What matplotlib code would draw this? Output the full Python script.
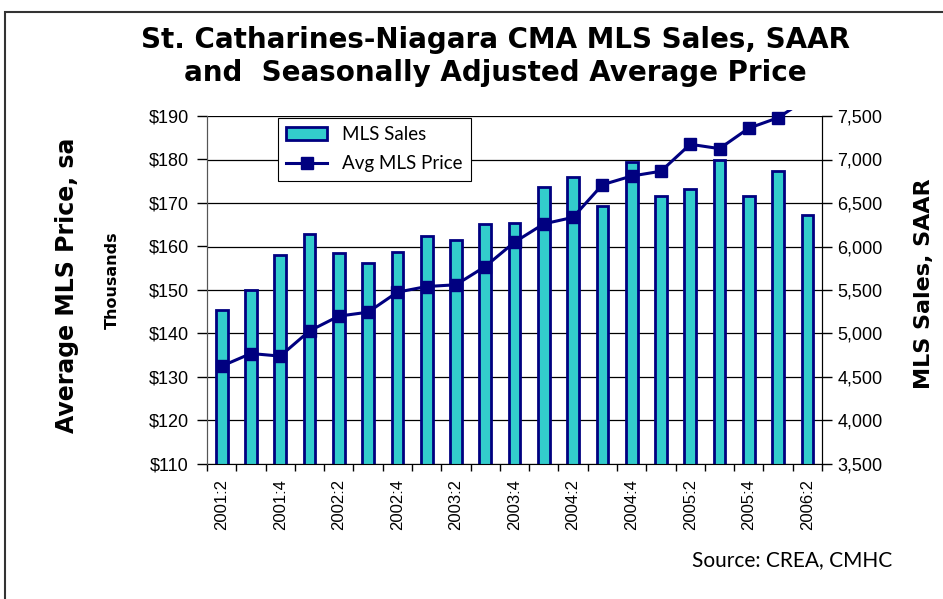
import matplotlib.pyplot as plt
from matplotlib.patches import Rectangle
from matplotlib.lines import Line2D
from matplotlib.ticker import FuncFormatter
import numpy as np

quarters = ['2001:2', '2001:3', '2001:4', '2002:1', '2002:2', '2002:3', '2002:4',
            '2003:1', '2003:2', '2003:3', '2003:4', '2004:1', '2004:2', '2004:3',
            '2004:4', '2005:1', '2005:2', '2005:3', '2005:4', '2006:1', '2006:2']

mls_sales = [5270, 5500, 5900, 6140, 5920, 5810, 5940, 6120, 6070, 6260, 6270,
             6685, 6800, 6470, 6975, 6585, 6660, 6990, 6585, 6865, 6365]

avg_price = [132.5, 135.4, 134.8, 140.6, 144.0, 144.9, 149.5, 150.8, 151.2, 155.4,
             161.0, 165.2, 166.7, 174.2, 176.2, 177.3, 183.5, 182.5, 187.2, 189.6, 194.0]

bar_fill = '#33CCCC'
navy = '#000080'

dpi = 100
fig = plt.figure(figsize=(943 / dpi, 599 / dpi), dpi=dpi)

# outer border of the chart
fig.patches.append(Rectangle((5 / 943, -0.02), 1.05, 1 - 12 / 599 + 0.02,
                             transform=fig.transFigure, fill=False,
                             edgecolor='#333333', linewidth=1.5))

ax = fig.add_axes([207 / 943, 1 - 464 / 599, 615 / 943, 348 / 599])
x = np.arange(len(quarters))

# bars on the right-hand scale
ax.bar(x, mls_sales, width=0.4, color=bar_fill, edgecolor=navy, linewidth=2.0, zorder=2)
ax.set_ylim(3500, 7500)
ax.set_xlim(-0.5, len(quarters) - 0.5)
ax.set_yticks(np.arange(3500, 7501, 500))
ax.yaxis.set_major_formatter(FuncFormatter(lambda v, p: f'{int(v):,}'))
ax.grid(axis='y', color='black', linewidth=0.9, zorder=0)
ax.set_axisbelow(True)

# price line on the left-hand scale
ax2 = ax.twinx()
ax.yaxis.tick_right()
ax2.yaxis.tick_left()
line, = ax2.plot(x, avg_price, color=navy, linewidth=2.2, marker='s', markersize=8, zorder=3)
# let the line run a little past the top edge, as in the original
line.set_clip_path(Rectangle((0, 0), 1, 1.018, transform=ax2.transAxes))
ax2.set_ylim(110, 190)
ax2.set_yticks(np.arange(110, 191, 10))
ax2.yaxis.set_major_formatter(FuncFormatter(lambda v, p: f'${int(v)}'))

for a in (ax, ax2):
    a.spines['top'].set_visible(False)
    a.spines['left'].set_color('#555555')
    a.spines['right'].set_color('black')
    a.spines['bottom'].set_color('black')
ax2.spines['bottom'].set_visible(False)

ax.tick_params(axis='y', direction='out', length=7, width=1, labelsize=13, pad=4)
ax2.tick_params(axis='y', direction='out', length=7, width=1, labelsize=13, pad=6)
for lab in ax.get_yticklabels() + ax2.get_yticklabels():
    lab.set_fontfamily('Liberation Sans')

# category ticks between bars, labels on every other quarter
ax.set_xticks(np.arange(-0.5, len(quarters), 1), minor=True)
ax.set_xticks(x[::2])
ax.set_xticklabels(quarters[::2], rotation=90, fontsize=12, family='Liberation Sans')
ax.tick_params(axis='x', which='major', length=0, pad=11)
ax.tick_params(axis='x', which='minor', direction='out', length=5, width=1)

# legend
handles = [Rectangle((0, 0), 1, 1, facecolor=bar_fill, edgecolor=navy, linewidth=2),
           Line2D([], [], color=navy, linewidth=2.2, marker='s', markersize=8)]
leg = ax2.legend(handles, ['MLS Sales', 'Avg MLS Price'], loc='upper left',
                 bbox_to_anchor=(0.115, 0.995), frameon=True, fancybox=False,
                 edgecolor='black', framealpha=1, prop={'family': 'Lato', 'size': 13.5},
                 handlelength=2.2, borderpad=0.45, labelspacing=0.65, borderaxespad=0)
leg.get_frame().set_linewidth(0.8)

fig.text(495 / 943, 1 - 40 / 599, 'St. Catharines-Niagara CMA MLS Sales, SAAR',
         ha='center', va='center', fontsize=20, fontweight='bold', family='DejaVu Sans')
fig.text(495 / 943, 1 - 73 / 599, 'and  Seasonally Adjusted Average Price',
         ha='center', va='center', fontsize=20, fontweight='bold', family='DejaVu Sans')

fig.text(67 / 943, 1 - 285 / 599, 'Average MLS Price, sa', rotation=90,
         ha='center', va='center', fontsize=17, fontweight='bold', family='DejaVu Sans')
fig.text(112 / 943, 1 - 280 / 599, 'Thousands', rotation=90,
         ha='center', va='center', fontsize=11.5, fontweight='bold', family='DejaVu Sans')
fig.text(924 / 943, 1 - 284 / 599, 'MLS Sales, SAAR', rotation=90,
         ha='center', va='center', fontsize=16, fontweight='bold', family='DejaVu Sans')

fig.text(892 / 943, 1 - 560 / 599, 'Source: CREA, CMHC', ha='right', va='center',
         fontsize=15, family='Lato')

fig.savefig('out.png', dpi=dpi)
